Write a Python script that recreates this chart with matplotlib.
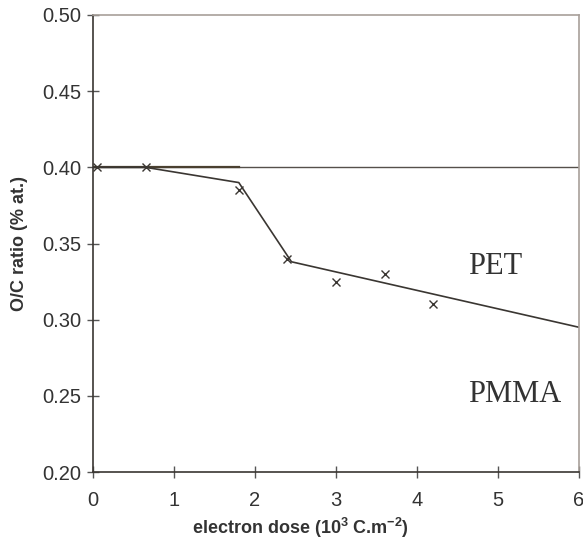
import matplotlib

matplotlib.use("Agg")

import matplotlib.pyplot as plt

# measured O/C ratio points
dose_pts = [0.05, 0.65, 1.8, 2.4, 3.0, 3.6, 4.2]
ratio_pts = [0.400, 0.400, 0.385, 0.340, 0.325, 0.330, 0.310]

# PET trend line
pet_x = [0.0, 0.65, 1.8, 2.45, 6.0]
pet_y = [0.400, 0.400, 0.390, 0.338, 0.295]

# PMMA constant level
pmma_x = [0.0, 6.0]
pmma_y = [0.400, 0.400]
pmma_dark_x = [0.0, 1.8]

x_ticks = [0, 1, 2, 3, 4, 5, 6]
y_ticks = [0.20, 0.25, 0.30, 0.35, 0.40, 0.45, 0.50]

DARK = "#3a3632"
GREY = "#a8a09a"

fig = plt.figure(figsize=(5.83, 5.45), dpi=100)
ax = fig.add_axes([93 / 583, 1 - 472 / 545, 486 / 583, 457 / 545])

ax.plot(pmma_x, pmma_y, color="#55504b", linewidth=1.0)
ax.plot(pmma_dark_x, [pmma_y[0]] * 2, color="#4a4030", linewidth=1.6)
ax.plot(pet_x, pet_y, color=DARK, linewidth=1.2)
ax.plot(dose_pts, ratio_pts, linestyle="none", marker="x", color=DARK,
        markersize=6, markeredgewidth=1.0)

ax.text(4.63, 0.330, "PET", family="Liberation Serif", fontsize=22, color="#333")
ax.text(4.63, 0.246, "PMMA", family="Liberation Serif", fontsize=22, color="#333")

ax.set_xlim(0, 6)
ax.set_ylim(0.20, 0.50)
ax.set_xticks(x_ticks)
ax.set_yticks(y_ticks)
ax.set_yticklabels([f"{v:.2f}" for v in y_ticks])

for side in ("left", "bottom"):
    ax.spines[side].set_color(DARK)
    ax.spines[side].set_linewidth(1.2)
for side in ("top", "right"):
    ax.spines[side].set_color(GREY)
    ax.spines[side].set_linewidth(1.2)

ax.tick_params(direction="inout", length=9, width=1.0, color="#555",
               labelsize=14.5, labelcolor="#333")
ax.tick_params(axis="y", pad=4)
ax.tick_params(axis="x", pad=9)
for lbl in ax.get_xticklabels() + ax.get_yticklabels():
    lbl.set_family("Liberation Sans")

ax.set_xlabel(r"electron dose (10$^{\mathregular{3}}$ C.m$^{\mathregular{-2}}$)",
              family="Liberation Sans", fontweight="bold", fontsize=13, color="#333")
ax.set_ylabel("O/C ratio (% at.)", family="Liberation Sans", fontweight="bold",
              fontsize=13, color="#333")
ax.xaxis.set_label_coords(0.426, -0.095)
ax.yaxis.set_label_coords(-0.134, 0.5)

fig.savefig("out.png", dpi=100)
